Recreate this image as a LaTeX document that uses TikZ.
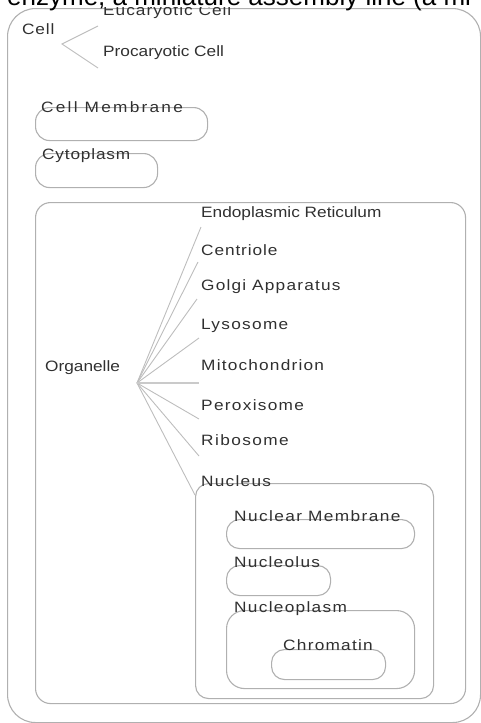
\documentclass[tikz,border=0pt]{standalone}
\usepackage{fontspec}
\setmainfont{Liberation Sans}
\newfontfamily\labfont[FakeStretch=1.15]{Liberation Sans}
\definecolor{txt}{HTML}{303030}
\definecolor{boxc}{HTML}{B0B0B0}
\definecolor{fanc}{HTML}{BDBDBD}
\tikzset{
  lab/.style={font=\fontsize{15}{18}\labfont\addfontfeature{LetterSpace=#1}, text=txt, inner sep=0pt, anchor=base west},
  box/.style={draw=boxc, line width=1.1pt, inner sep=0pt, anchor=north west},
  fan/.style={draw=fanc, line width=0.9pt},
}
\begin{document}
\begin{tikzpicture}[x=1pt,y=-1pt]
\useasboundingbox (0,0) rectangle (481,723);
\clip (0,0) rectangle (481,723);
% boxes
\node[box, rounded corners=28pt, minimum width=473pt, minimum height=714pt] (cellbox) at (7,8) {};
\node[box, rounded corners=14pt, minimum width=172pt, minimum height=33pt] (cmbox) at (35,107) {};
\node[box, rounded corners=14pt, minimum width=122pt, minimum height=34pt] (cybox) at (35,153) {};
\node[box, rounded corners=15pt, minimum width=430pt, minimum height=501pt] (orbox) at (35,202) {};
\node[box, rounded corners=13pt, minimum width=238pt, minimum height=215pt] (nubox) at (195,483) {};
\node[box, rounded corners=13pt, minimum width=188pt, minimum height=29pt] (nmbox) at (226,519) {};
\node[box, rounded corners=13pt, minimum width=104pt, minimum height=30pt] (nobox) at (226,565) {};
\node[box, rounded corners=18pt, minimum width=188pt, minimum height=78pt] (npbox) at (226,610) {};
\node[box, rounded corners=13pt, minimum width=114pt, minimum height=30pt] (chbox) at (271,649) {};
% labels
\node[lab=6.7] (euc) at (103,15.5) {Eucaryotic Cell};
\node[lab=5.5] (cell) at (22,34.5) {Cell};
\node[lab=0] (pro) at (103,56.5) {Procaryotic Cell};
\node[lab=15] (cm) at (41,112) {Cell Membrane};
\node[lab=5.5] (cy) at (42,159) {Cytoplasm};
\node[lab=0] (org) at (45,371) {Organelle};
\node[lab=0] (er) at (201,217) {Endoplasmic Reticulum};
\node[lab=6] (ce) at (201,255) {Centriole};
\node[lab=8] (go) at (201,290) {Golgi Apparatus};
\node[lab=8.7] (ly) at (201,329) {Lysosome};
\node[lab=8] (mi) at (201,370) {Mitochondrion};
\node[lab=8.7] (pe) at (201,410) {Peroxisome};
\node[lab=9.5] (ri) at (201,445) {Ribosome};
\node[lab=8.3] (nu) at (201,486) {Nucleus};
\node[lab=9.3] (nm) at (234,521) {Nuclear Membrane};
\node[lab=8.4] (no) at (234,567) {Nucleolus};
\node[lab=8.7] (np) at (234,612) {Nucleoplasm};
\node[lab=8.4] (ch) at (283,650) {Chromatin};
% fan ends
\coordinate (capex) at (62,44);
\coordinate (eucEnd) at (98,26);
\coordinate (proEnd) at (98,68);
\coordinate (oapex) at (137,383);
\coordinate (erEnd) at (201,227);
\coordinate (ceEnd) at (198,262);
\coordinate (goEnd) at (197,299);
\coordinate (lyEnd) at (199,338);
\coordinate (miEnd) at (199,383);
\coordinate (peEnd) at (199,419);
\coordinate (riEnd) at (199,456);
\coordinate (nuEnd) at (195,495);
\draw[fan] (eucEnd) -- (capex) -- (proEnd);
\foreach \e in {erEnd,ceEnd,goEnd,lyEnd,peEnd,riEnd,nuEnd}
  \draw[fan] (oapex) -- (\e);
\draw[fan, draw=fanc!80, line width=1.6pt] (oapex) -- (miEnd);
% top clipped line of text
\fill[white] (0,-40) rectangle (481,6.5);
\node[font=\fontsize{26}{30}\selectfont, text=black, inner sep=0pt, anchor=base west] (topline) at (7,5) {enzyme, a miniature assembly line (a mi};
\end{tikzpicture}
\end{document}
